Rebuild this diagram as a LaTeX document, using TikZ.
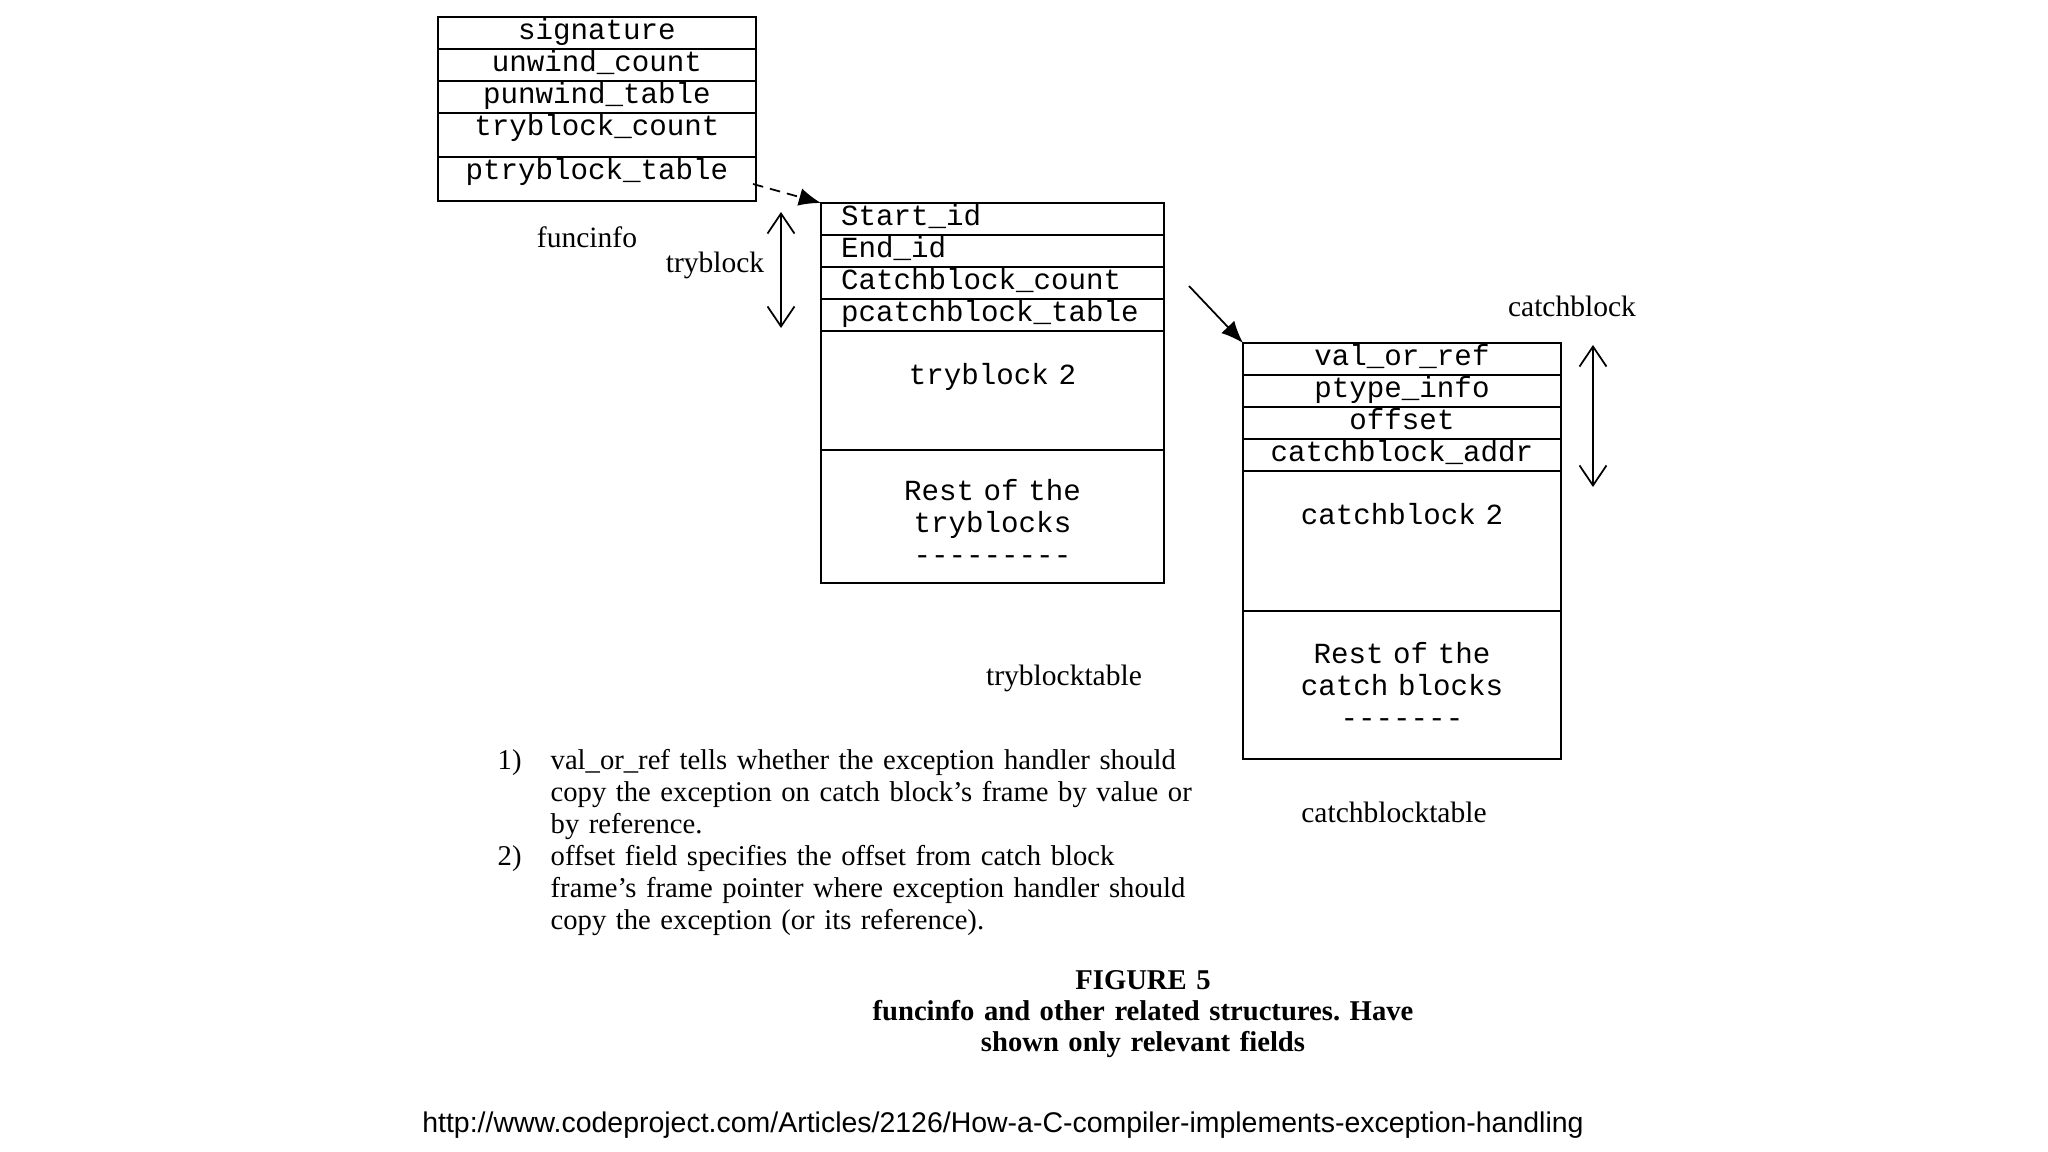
\documentclass[tikz,border=0pt]{standalone}
\usepackage{fontspec}
\setmainfont{Liberation Serif}
\setsansfont{Liberation Sans}
\setmonofont{Liberation Mono}
\usetikzlibrary{positioning,arrows.meta}
\frenchspacing
\newcommand\fieldfont{\ttfamily\fontsize{8.3}{9.1}\selectfont\spaceskip=0.6em\relax}
\begin{document}
\begin{tikzpicture}[x=1cm,y=-1cm]
  \tikzstyle{field}=[draw,line width=0.6pt,outer sep=0pt,inner ysep=0pt,inner xsep=0.2cm,text width=2.78cm,align=center,text height=0.23cm,text depth=0.09cm,font=\fieldfont];
  \tikzstyle{tallfield}=[field,text depth=0.21cm];
  \tikzstyle{tryfield}=[field,text width=3.03cm,align=left];
  \tikzstyle{annot}=[anchor=base,inner sep=0pt,font=\fontsize{8.4}{9.1}\selectfont];
  \tikzstyle{notetext}=[annot,anchor=base west,font=\fontsize{8.15}{9.1}\selectfont];
  \tikzstyle{pointer}=[-{Latex[length=2.2mm,width=1.8mm]},line width=0.5pt];
  \tikzstyle{extent}=[{Straight Barb[length=2mm,width=2.7mm]}-{Straight Barb[length=2mm,width=2.7mm]},line width=0.5pt];

  \useasboundingbox (0,0) rectangle (20.48,11.52);

  % funcinfo
  \node[field,anchor=north west] (sig) at (4.38,0.17) {signature};
  \node[field,below=0pt of sig] (ucount) {unwind\_count};
  \node[field,below=0pt of ucount] (utable) {punwind\_table};
  \node[tallfield,below=0pt of utable] (tcount) {tryblock\_count};
  \node[tallfield,below=0pt of tcount] (ttable) {ptryblock\_table};

  % tryblocktable
  \node[tryfield,anchor=north west] (startid) at (8.21,2.03) {Start\_id};
  \node[tryfield,below=0pt of startid] (endid) {End\_id};
  \node[tryfield,below=0pt of endid] (ccount) {Catchblock\_count};
  \node[tryfield,below=0pt of ccount] (ctable) {pcatchblock\_table};
  \node[tryfield,align=center,text height=0.54cm,text depth=0.65cm,below=0pt of ctable] (try2) {tryblock 2};
  \node[tryfield,align=center,text height=0.51cm,text depth=0.82cm,below=0pt of try2] (tryrest) {Rest of the\\tryblocks\\---------};

  % catchblocktable
  \node[field,anchor=north west] (valref) at (12.43,3.43) {val\_or\_ref};
  \node[field,below=0pt of valref] (ptype) {ptype\_info};
  \node[field,below=0pt of ptype] (offset) {offset};
  \node[field,below=0pt of offset] (caddr) {catchblock\_addr};
  \node[field,text height=0.54cm,text depth=0.86cm,below=0pt of caddr] (catch2) {catchblock 2};
  \node[field,text height=0.53cm,text depth=0.95cm,below=0pt of catch2] (catchrest) {Rest of the\\catch blocks\\-------};

  % names
  \node[annot] (funcinfo) at (5.87,2.48) {funcinfo};
  \node[annot] (trylbl) at (7.15,2.73) {tryblock};
  \node[annot] (catchlbl) at (15.72,3.17) {catchblock};
  \node[annot] (trytable) at (10.64,6.85) {tryblocktable};
  \node[annot] (catchtable) at (13.94,8.22) {catchblocktable};

  % pointers
  \draw[pointer,densely dashed] ([xshift=-0.03cm,yshift=-0.05cm]ttable.east) -- (startid.north west);
  \draw[pointer] ([xshift=0.25cm,yshift=-0.03cm]ccount.east) -- (valref.north west);

  % one tryblock / one catchblock
  \draw[extent] ([xshift=-0.4cm,yshift=-0.09cm]startid.north west) -- ([xshift=-0.4cm,yshift=0.03cm]ctable.south west);
  \draw[extent] ([xshift=0.32cm,yshift=-0.02cm]valref.north east) -- ([xshift=0.32cm,yshift=-0.16cm]caddr.south east);

  % notes
  \node[notetext] (num1) at (4.97,7.70) {1)};
  \node[notetext,text width=7cm,align=left] (note1) at (5.50,7.70) {val\_or\_ref tells whether the exception handler should\\copy the exception on catch block’s frame by value or\\by reference.};
  \node[notetext] (num2) at (4.97,8.66) {2)};
  \node[notetext,text width=7cm,align=left] (note2) at (5.50,8.66) {offset field specifies the offset from catch block\\frame’s frame pointer where exception handler should\\copy the exception (or its reference).};

  % caption
  \node[annot,font=\bfseries\fontsize{8.15}{8.9}\selectfont,text width=8cm,align=center] (caption) at (11.43,9.89) {FIGURE 5\\funcinfo and other related structures. Have\\shown only relevant fields};
  \node[annot,font=\sffamily\fontsize{8.1}{9}\selectfont] (url) at (10.03,11.32) {http://www.codeproject.com/Articles/2126/How-a-C-compiler-implements-exception-handling};
\end{tikzpicture}
\end{document}
